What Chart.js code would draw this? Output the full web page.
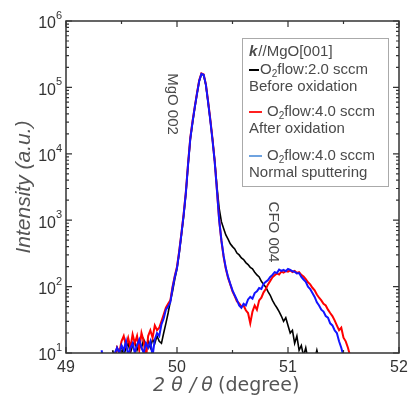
<!DOCTYPE html>
<html>
<head>
<meta charset="utf-8">
<script src="https://cdn.jsdelivr.net/npm/chart.js@4/dist/chart.umd.min.js"></script>
<style>
  html, body { margin: 0; padding: 0; background: #fff; }
  #wrap { width: 410px; height: 397px; }
</style>
</head>
<body>
<div id="wrap"><canvas id="xrdChart" width="410" height="397"></canvas></div>
<script>
// 2theta/theta scan values (degree)
const angles = [
  49.30, 49.32, 49.34, 49.36, 49.38, 49.40, 49.42, 49.44, 49.46, 49.48,
  49.50, 49.52, 49.54, 49.56, 49.58, 49.60, 49.62, 49.64, 49.66, 49.68,
  49.70, 49.72, 49.74, 49.76, 49.78, 49.80, 49.82, 49.84, 49.86, 49.88,
  49.90, 49.92, 49.94, 49.96, 49.98, 50.00, 50.02, 50.04, 50.06, 50.08,
  50.10, 50.12, 50.14, 50.16, 50.18, 50.20, 50.22, 50.24, 50.26, 50.28,
  50.30, 50.32, 50.34, 50.36, 50.38, 50.40, 50.42, 50.44, 50.46, 50.48,
  50.50, 50.52, 50.54, 50.56, 50.58, 50.60, 50.62, 50.64, 50.66, 50.68,
  50.70, 50.72, 50.74, 50.76, 50.78, 50.80, 50.82, 50.84, 50.86, 50.88,
  50.90, 50.92, 50.94, 50.96, 50.98, 51.00, 51.02, 51.04, 51.06, 51.08,
  51.10, 51.12, 51.14, 51.16, 51.18, 51.20, 51.22, 51.24, 51.26, 51.28,
  51.30, 51.32, 51.34, 51.36, 51.38, 51.40, 51.42, 51.44, 51.46, 51.48,
  51.50, 51.52, 51.54, 51.56, 51.58, 51.60
];

// O2 flow 2.0 sccm, before oxidation
const beforeOxidation = [
  null, null, null, null, null, null, 11, 8, 12, 10,
  13, 9, 12, 14, 10, 13, 15, 11, 14, 12,
  16, 13, 15, 12, 16, 14, 18, 15, 14, 20,
  28, 40, 60, 85, 130, 185, 320, 600, 1150, 2500,
  6800, 16500, 29000, 49000, 79000, 124000, 158000, 153000, 108000, 60000,
  32000, 16500, 7800, 3200, 1500, 950, 750, 600, 520, 440,
  400, 370, 320, 300, 270, 255, 230, 215, 195, 185,
  165, 150, 140, 120, 108, 98, 84, 74, 62, 54,
  48, 42, 36, 30, 34, 26, 20, 22, 14, 18,
  11, 13, 9, 12, 8, 7, 7, 8, 11, 8,
  null, null, null, null, null, null, null, null, null, null,
  null, null, null, null, null, null
];

// O2 flow 4.0 sccm, after oxidation
const afterOxidation = [
  null, null, null, null, null, null, null, 9, 12, 10,
  15, 18, 13, 17, 12, 19, 14, 18, 11, 20,
  15, 8, 18, 22, 17, 26, 22, 24, 30, 38,
  48, 55, 62, 100, 145, 200, 345, 640, 1250, 2700,
  7200, 17500, 31000, 51000, 82000, 128000, 163000, 157000, 112000, 62000,
  33000, 16500, 7600, 2800, 1000, 490, 280, 185, 135, 108,
  85, 72, 60, 56, 50, 52, 44, 40, 28, 42,
  52, 45, 62, 68, 82, 92, 108, 122, 138, 148,
  158, 152, 168, 162, 172, 168, 176, 166, 172, 160,
  165, 150, 142, 130, 116, 108, 96, 88, 76, 68,
  62, 55, 52, 45, 40, 36, 31, 26, 22, 24,
  17, 15, 12, 9, null, null
];

// O2 flow 4.0 sccm, normal sputtering
const normalSputtering = [
  null, 11, 8, null, null, null, 9, 10, 12, 10,
  13, 11, 15, 9, 12, 14, 10, 13, 16, 12,
  10, 14, 12, 15, 9, 16, 20, 18, 27, 33,
  45, 50, 58, 95, 140, 190, 330, 620, 1200, 2600,
  7000, 17000, 30000, 50000, 80000, 125000, 160000, 155000, 110000, 60000,
  32000, 16000, 7500, 2800, 1000, 500, 290, 190, 140, 110,
  88, 74, 63, 52, 48, 55, 52, 64, 70, 66,
  80, 85, 95, 92, 110, 118, 125, 140, 150, 165,
  160, 180, 172, 178, 170, 185, 178, 170, 168, 158,
  160, 140, 128, 118, 100, 92, 80, 70, 58, 52,
  45, 42, 36, 34, 28, 26, 22, 20, 15, 12,
  9, null, null, null, null, null
];

const xTicks = [49, 50, 51, 52];
const yDecades = [1, 2, 3, 4, 5, 6];

function toPoints(values) {
  return angles.map((a, i) => ({ x: a, y: values[i] }));
}

const INK = "#333333";
const TEXT = "#4a4a4a";

function drawFrameAndText(chart) {
  const ctx = chart.ctx;
  const area = chart.chartArea;
  const xs = chart.scales.x;
  const ys = chart.scales.y;

  ctx.save();

  // legend box
  ctx.fillStyle = "#ffffff";
  ctx.fillRect(242, 38, 146, 148);
  ctx.strokeStyle = "#aaaaaa";
  ctx.lineWidth = 1;
  ctx.strokeRect(242.5, 38.5, 146, 148);

  ctx.fillStyle = TEXT;
  ctx.textBaseline = "middle";
  ctx.textAlign = "left";
  ctx.font = "bold italic 15px 'Liberation Sans', Arial, sans-serif";
  ctx.fillText("k", 249, 52);
  let kw = ctx.measureText("k").width;
  ctx.font = "15px 'Liberation Sans', Arial, sans-serif";
  ctx.fillText("//MgO[001]", 249 + kw + 1, 52);

  function flowLine(y, x0, text) {
    ctx.font = "15px 'Liberation Sans', Arial, sans-serif";
    ctx.fillText("O", x0, y);
    let w = ctx.measureText("O").width;
    ctx.font = "10px 'Liberation Sans', Arial, sans-serif";
    ctx.fillText("2", x0 + w, y + 4);
    let w2 = ctx.measureText("2").width;
    ctx.font = "15px 'Liberation Sans', Arial, sans-serif";
    ctx.fillText(text, x0 + w + w2, y);
  }

  const legendRows = [
    { y: 70, color: "#000000", dash: [249, 259], x0: 260, text: "flow:2.0 sccm", sub: "Before oxidation" },
    { y: 112, color: "#ff2020", dash: [249, 262], x0: 267, text: "flow:4.0 sccm", sub: "After oxidation" },
    { y: 156, color: "#6fa3e0", dash: [249, 262], x0: 267, text: "flow:4.0 sccm", sub: "Normal sputtering" }
  ];
  legendRows.forEach((row) => {
    ctx.strokeStyle = row.color;
    ctx.lineWidth = 2;
    ctx.beginPath();
    ctx.moveTo(row.dash[0], row.y);
    ctx.lineTo(row.dash[1], row.y);
    ctx.stroke();
    ctx.fillStyle = TEXT;
    flowLine(row.y, row.x0, row.text);
    ctx.font = "15px 'Liberation Sans', Arial, sans-serif";
    ctx.fillText(row.sub, 249, row.y + 17);
  });

  // peak labels
  ctx.font = "15px 'Liberation Sans', Arial, sans-serif";
  ctx.textAlign = "center";
  ctx.fillStyle = TEXT;
  [["MgO 002", 172, 104], ["CFO 004", 273, 232]].forEach(([t, x, y]) => {
    ctx.save();
    ctx.translate(x, y);
    ctx.rotate(Math.PI / 2);
    ctx.fillText(t, 0, 0);
    ctx.restore();
  });

  // frame
  ctx.strokeStyle = INK;
  ctx.lineWidth = 1.5;
  ctx.strokeRect(area.left, area.top, area.right - area.left, area.bottom - area.top);

  // x ticks, inward on bottom and top
  ctx.lineWidth = 1.2;
  ctx.beginPath();
  for (let v = 49; v <= 52.001; v += 0.5) {
    const px = xs.getPixelForValue(v);
    const len = Math.abs(v - Math.round(v)) < 0.01 ? 6 : 3;
    ctx.moveTo(px, area.bottom);
    ctx.lineTo(px, area.bottom - len);
    ctx.moveTo(px, area.top);
    ctx.lineTo(px, area.top + len);
  }
  // y ticks, log minor
  yDecades.forEach((d) => {
    for (let m = 1; m <= 9; m++) {
      if (d === 6 && m > 1) break;
      const py = ys.getPixelForValue(m * Math.pow(10, d));
      const len = m === 1 ? 6 : 3;
      ctx.moveTo(area.left, py);
      ctx.lineTo(area.left + len, py);
      ctx.moveTo(area.right, py);
      ctx.lineTo(area.right - len, py);
    }
  });
  ctx.stroke();

  // tick labels
  ctx.fillStyle = INK;
  ctx.textAlign = "center";
  ctx.textBaseline = "middle";
  ctx.font = "16px 'Liberation Sans', Arial, sans-serif";
  xTicks.forEach((v) => {
    ctx.fillText(String(v), xs.getPixelForValue(v), area.bottom + 15);
  });
  yDecades.forEach((d) => {
    const py = ys.getPixelForValue(Math.pow(10, d));
    ctx.textAlign = "right";
    ctx.font = "16px 'Liberation Sans', Arial, sans-serif";
    ctx.fillText("10", 56, py + 3);
    ctx.textAlign = "left";
    ctx.font = "11px 'Liberation Sans', Arial, sans-serif";
    ctx.fillText(String(d), 56, py - 5);
  });

  // axis titles
  ctx.fillStyle = "#555555";
  ctx.save();
  ctx.translate(24, 187);
  ctx.rotate(-Math.PI / 2);
  ctx.textAlign = "center";
  ctx.font = "italic 21px 'Liberation Sans', Arial, sans-serif";
  ctx.fillText("Intensity (a.u.)", 0, 0);
  ctx.restore();

  ctx.textAlign = "center";
  ctx.font = "italic 19px 'DejaVu Sans', sans-serif";
  [["2", 159], ["θ", 177], ["/", 193], ["θ", 207]].forEach(([c, x]) => {
    ctx.fillText(c, x, 386);
  });
  ctx.textAlign = "left";
  ctx.font = "19px 'DejaVu Sans', sans-serif";
  ctx.fillText("(degree)", 218, 386);

  ctx.restore();
}

const framePlugin = {
  id: "frameAndText",
  afterDraw: drawFrameAndText
};

new Chart(document.getElementById("xrdChart"), {
  type: "line",
  data: {
    datasets: [
      {
        label: "Normal sputtering",
        data: toPoints(normalSputtering),
        borderColor: "#1414ff",
        borderWidth: 2,
        order: 0
      },
      {
        label: "After oxidation",
        data: toPoints(afterOxidation),
        borderColor: "#ff0000",
        borderWidth: 2,
        order: 1
      },
      {
        label: "Before oxidation",
        data: toPoints(beforeOxidation),
        borderColor: "#000000",
        borderWidth: 1.6,
        order: 2
      }
    ]
  },
  options: {
    responsive: false,
    animation: false,
    devicePixelRatio: 1,
    layout: {
      padding: { left: 66, right: 11, top: 21, bottom: 44 }
    },
    elements: {
      point: { radius: 0 },
      line: { tension: 0 }
    },
    plugins: {
      legend: { display: false },
      tooltip: { enabled: false }
    },
    scales: {
      x: {
        type: "linear",
        min: 49,
        max: 52,
        display: false
      },
      y: {
        type: "logarithmic",
        min: 10,
        max: 1000000,
        display: false
      }
    }
  },
  plugins: [framePlugin]
});
</script>
</body>
</html>
